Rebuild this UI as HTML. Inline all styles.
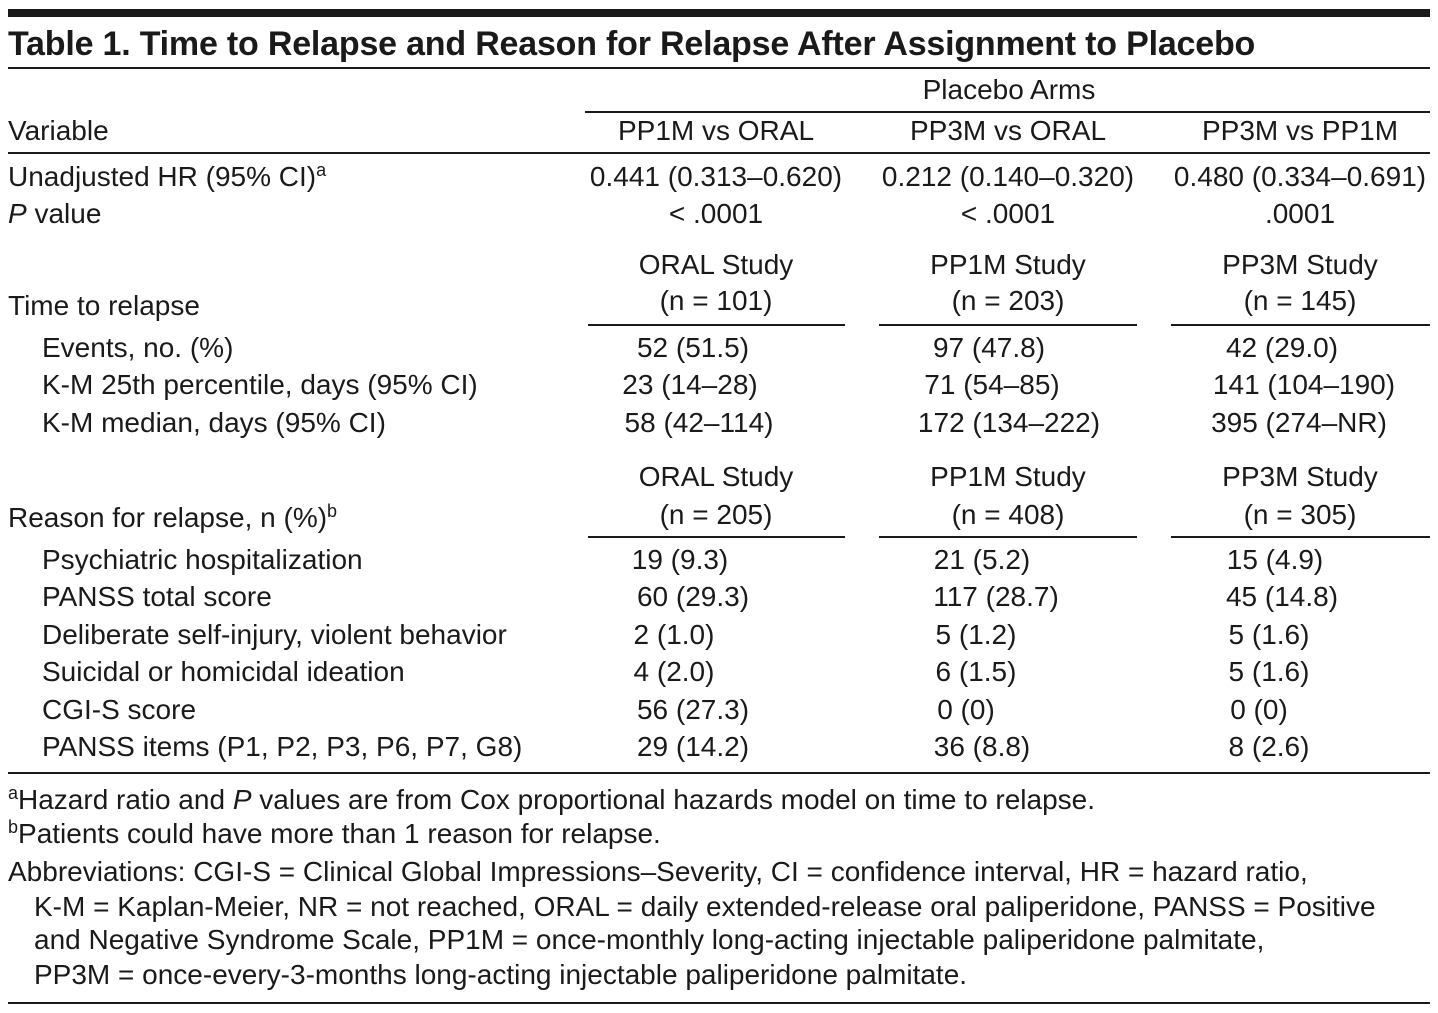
<!DOCTYPE html>
<html><head><meta charset="utf-8"><style>
body{margin:0;width:1438px;height:1013px;background:#fff;position:relative;overflow:hidden;font-family:"Liberation Sans",sans-serif;color:#1a1a1a}
.t{position:absolute;font-size:28px;line-height:30px;white-space:nowrap;letter-spacing:0px}
.c{text-align:center;width:300px;margin-left:-150px}
.l{position:absolute;background:#1a1a1a}
sup{font-size:18px;line-height:0;vertical-align:10px}
</style></head><body>
<div class="l" style="left:8px;top:9px;width:1422px;height:8px"></div>
<div class="t" style="left:8px;top:25px;font-size:34px;line-height:38px;font-weight:bold;letter-spacing:-0.2px">Table 1. Time to Relapse and Reason for Relapse After Assignment to Placebo</div>
<div class="l" style="left:8px;top:67px;width:1422px;height:2px"></div>
<div class="t c" style="left:1009px;top:75px">Placebo Arms</div>
<div class="l" style="left:585px;top:111px;width:845px;height:2px"></div>
<div class="t" style="left:8px;top:116px">Variable</div>
<div class="t c" style="left:716px;top:116px">PP1M vs ORAL</div>
<div class="t c" style="left:1008px;top:116px">PP3M vs ORAL</div>
<div class="t c" style="left:1300px;top:116px">PP3M vs PP1M</div>
<div class="l" style="left:8px;top:152px;width:1422px;height:2px"></div>

<div class="t" style="left:8px;top:162px">Unadjusted HR (95% CI)<sup>a</sup></div>
<div class="t c" style="left:716px;top:162px">0.441 (0.313–0.620)</div>
<div class="t c" style="left:1008px;top:162px">0.212 (0.140–0.320)</div>
<div class="t c" style="left:1300px;top:162px">0.480 (0.334–0.691)</div>
<div class="t" style="left:8px;top:199px"><i>P</i> value</div>
<div class="t c" style="left:716px;top:199px">&lt; .0001</div>
<div class="t c" style="left:1008px;top:199px">&lt; .0001</div>
<div class="t c" style="left:1300px;top:199px">.0001</div>

<div class="t c" style="left:716px;top:250px">ORAL Study</div>
<div class="t c" style="left:1008px;top:250px">PP1M Study</div>
<div class="t c" style="left:1300px;top:250px">PP3M Study</div>
<div class="t" style="left:8px;top:291px">Time to relapse</div>
<div class="t c" style="left:716px;top:286px">(n = 101)</div>
<div class="t c" style="left:1008px;top:286px">(n = 203)</div>
<div class="t c" style="left:1300px;top:286px">(n = 145)</div>
<div class="l" style="left:588px;top:324px;width:257px;height:2px"></div>
<div class="l" style="left:879px;top:324px;width:258px;height:2px"></div>
<div class="l" style="left:1171px;top:324px;width:259px;height:2px"></div>

<div class="t" style="left:42px;top:333px">Events, no. (%)</div>
<div class="t c" style="left:693px;top:333px">52 (51.5)</div>
<div class="t c" style="left:989px;top:333px">97 (47.8)</div>
<div class="t c" style="left:1282px;top:333px">42 (29.0)</div>
<div class="t" style="left:42px;top:370px">K-M 25th percentile, days (95% CI)</div>
<div class="t c" style="left:690px;top:370px">23 (14–28)</div>
<div class="t c" style="left:992px;top:370px">71 (54–85)</div>
<div class="t c" style="left:1304px;top:370px">141 (104–190)</div>
<div class="t" style="left:42px;top:408px">K-M median, days (95% CI)</div>
<div class="t c" style="left:699px;top:408px">58 (42–114)</div>
<div class="t c" style="left:1009px;top:408px">172 (134–222)</div>
<div class="t c" style="left:1299px;top:408px">395 (274–NR)</div>

<div class="t c" style="left:716px;top:462px">ORAL Study</div>
<div class="t c" style="left:1008px;top:462px">PP1M Study</div>
<div class="t c" style="left:1300px;top:462px">PP3M Study</div>
<div class="t" style="left:8px;top:503px">Reason for relapse, n (%)<sup>b</sup></div>
<div class="t c" style="left:716px;top:500px">(n = 205)</div>
<div class="t c" style="left:1008px;top:500px">(n = 408)</div>
<div class="t c" style="left:1300px;top:500px">(n = 305)</div>
<div class="l" style="left:588px;top:536px;width:257px;height:2px"></div>
<div class="l" style="left:879px;top:536px;width:258px;height:2px"></div>
<div class="l" style="left:1171px;top:536px;width:259px;height:2px"></div>

<div class="t" style="left:42px;top:545px">Psychiatric hospitalization</div>
<div class="t c" style="left:680px;top:545px">19 (9.3)</div>
<div class="t c" style="left:982px;top:545px">21 (5.2)</div>
<div class="t c" style="left:1275px;top:545px">15 (4.9)</div>
<div class="t" style="left:42px;top:582px">PANSS total score</div>
<div class="t c" style="left:693px;top:582px">60 (29.3)</div>
<div class="t c" style="left:996px;top:582px">117 (28.7)</div>
<div class="t c" style="left:1282px;top:582px">45 (14.8)</div>
<div class="t" style="left:42px;top:620px">Deliberate self-injury, violent behavior</div>
<div class="t c" style="left:674px;top:620px">2 (1.0)</div>
<div class="t c" style="left:976px;top:620px">5 (1.2)</div>
<div class="t c" style="left:1269px;top:620px">5 (1.6)</div>
<div class="t" style="left:42px;top:657px">Suicidal or homicidal ideation</div>
<div class="t c" style="left:674px;top:657px">4 (2.0)</div>
<div class="t c" style="left:976px;top:657px">6 (1.5)</div>
<div class="t c" style="left:1269px;top:657px">5 (1.6)</div>
<div class="t" style="left:42px;top:695px">CGI-S score</div>
<div class="t c" style="left:693px;top:695px">56 (27.3)</div>
<div class="t c" style="left:966px;top:695px">0 (0)</div>
<div class="t c" style="left:1259px;top:695px">0 (0)</div>
<div class="t" style="left:42px;top:732px">PANSS items (P1, P2, P3, P6, P7, G8)</div>
<div class="t c" style="left:693px;top:732px">29 (14.2)</div>
<div class="t c" style="left:982px;top:732px">36 (8.8)</div>
<div class="t c" style="left:1269px;top:732px">8 (2.6)</div>
<div class="l" style="left:8px;top:772px;width:1422px;height:2px"></div>

<div class="t" style="left:8px;top:785px"><sup>a</sup>Hazard ratio and <i>P</i> values are from Cox proportional hazards model on time to relapse.</div>
<div class="t" style="left:8px;top:819px"><sup>b</sup>Patients could have more than 1 reason for relapse.</div>
<div class="t" style="left:8px;top:857px">Abbreviations: CGI-S = Clinical Global Impressions–Severity, CI = confidence interval, HR = hazard ratio,</div>
<div class="t" style="left:34px;top:892px">K-M = Kaplan-Meier, NR = not reached, ORAL = daily extended-release oral paliperidone, PANSS = Positive</div>
<div class="t" style="left:34px;top:925px">and Negative Syndrome Scale, PP1M = once-monthly long-acting injectable paliperidone palmitate,</div>
<div class="t" style="left:34px;top:960px">PP3M = once-every-3-months long-acting injectable paliperidone palmitate.</div>
<div class="l" style="left:8px;top:1002px;width:1422px;height:2px"></div>
</body></html>
